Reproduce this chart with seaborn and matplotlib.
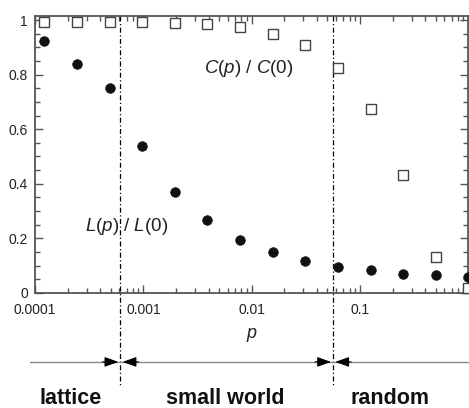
import matplotlib
matplotlib.use("Agg")
import matplotlib.pyplot as plt
from matplotlib.ticker import FixedLocator, MultipleLocator, LogLocator, NullFormatter
import matplotlib.transforms as mtransforms
import numpy as np
import pandas as pd
import seaborn as sns

sns.set_theme(style="ticks")
plt.rcParams["font.family"] = ["Liberation Sans", "DejaVu Sans"]
plt.rcParams["mathtext.fontset"] = "custom"
plt.rcParams["mathtext.it"] = "Liberation Sans:italic"
plt.rcParams["mathtext.rm"] = "Liberation Sans"

# rewiring probability p = 2^-13 ... 2^0
p_vals = [1.22e-4, 2.44e-4, 4.88e-4, 9.77e-4, 0.00195, 0.0039, 0.0078,
          0.0156, 0.03125, 0.0625, 0.125, 0.25, 0.5, 1.0]
# normalised characteristic path length L(p)/L(0)
L_vals = [0.924, 0.838, 0.750, 0.538, 0.370, 0.266, 0.195,
          0.150, 0.117, 0.095, 0.083, 0.070, 0.066, 0.060]
# normalised clustering coefficient C(p)/C(0)
C_vals = [0.993, 0.993, 0.993, 0.993, 0.988, 0.984, 0.974,
          0.950, 0.907, 0.823, 0.674, 0.432, 0.133, 0.018]

x_ticks = [1e-4, 1e-3, 1e-2, 1e-1]
x_ticklabels = ["0.0001", "0.001", "0.01", "0.1"]
y_ticks = [0, 0.2, 0.4, 0.6, 0.8, 1.0]
y_ticklabels = ["0", "0.2", "0.4", "0.6", "0.8", "1"]

regions = ["lattice", "small world", "random"]
borders = [6.15e-4, 0.0565]

df = pd.DataFrame({"p": p_vals, "L": L_vals, "C": C_vals})

fig = plt.figure(figsize=(4.69, 4.08), dpi=100)
ax = fig.add_axes([0.0746, 0.282, 0.924, 0.679])

spine_col = "#555555"
sns.scatterplot(data=df, x="p", y="C", ax=ax, marker="s", s=42,
                facecolor="white", edgecolor="#444444", linewidth=1.0,
                clip_on=False, zorder=3)
sns.scatterplot(data=df, x="p", y="L", ax=ax, marker="o", s=48,
                color="#111111", edgecolor="#111111", linewidth=0.5,
                clip_on=False, zorder=3)

ax.set_xscale("log")
ax.set_xlim(1e-4, 1.0)
ax.set_ylim(0, 1.015)

ax.xaxis.set_major_locator(FixedLocator(x_ticks))
ax.set_xticklabels(x_ticklabels)
ax.xaxis.set_minor_locator(LogLocator(base=10, subs=np.arange(2, 10)))
ax.xaxis.set_minor_formatter(NullFormatter())
ax.yaxis.set_major_locator(FixedLocator(y_ticks))
ax.set_yticklabels(y_ticklabels)
ax.yaxis.set_minor_locator(MultipleLocator(0.05))

ax.tick_params(which="both", direction="in", top=True, right=True,
               color=spine_col, width=1.0, labelsize=10, labelcolor="#222222")
ax.tick_params(which="major", length=6)
ax.tick_params(axis="x", which="major", pad=7)
ax.tick_params(axis="y", which="major", pad=5)
ax.tick_params(which="minor", length=3.5)
for sp in ax.spines.values():
    sp.set_color(spine_col)
    sp.set_linewidth(1.3)

ax.set_xlabel("$p$", fontsize=13, labelpad=7, color="#222222")
ax.set_ylabel("")

ax.text(0.0036, 0.823, "$C$($p$) / $C$(0)", fontsize=13.5, color="#222222",
        ha="left", va="center")
ax.text(2.9e-4, 0.245, "$L$($p$) / $L$(0)", fontsize=13.5, color="#222222",
        ha="left", va="center")

# regime borders and arrows below the axis
trans = mtransforms.blended_transform_factory(ax.transData, ax.transAxes)
row_y = -0.249
for b in borders:
    ax.plot([b, b], [1.0, -0.332], transform=trans, color="black", lw=0.9,
            ls=(0, (4, 2, 1, 2)), clip_on=False, zorder=2)
ax.plot([8.9e-5, 1.0], [row_y, row_y], transform=trans, color="#888888",
        lw=1.0, clip_on=False)
for b in borders:
    for off in (-13, 13):
        ax.annotate("", xy=(b, row_y), xycoords=trans,
                    xytext=(off, 0), textcoords="offset points",
                    arrowprops=dict(arrowstyle="-|>,head_length=0.7,head_width=0.25",
                                    color="black", lw=0.8,
                                    shrinkA=0, shrinkB=1.5))

for label, xf in zip(regions, [0.151, 0.48, 0.832]):
    fig.text(xf, 0.024, label, fontsize=15.5, fontweight="bold",
             ha="center", va="center", color="#111111")

fig.savefig("out.png", dpi=100)
